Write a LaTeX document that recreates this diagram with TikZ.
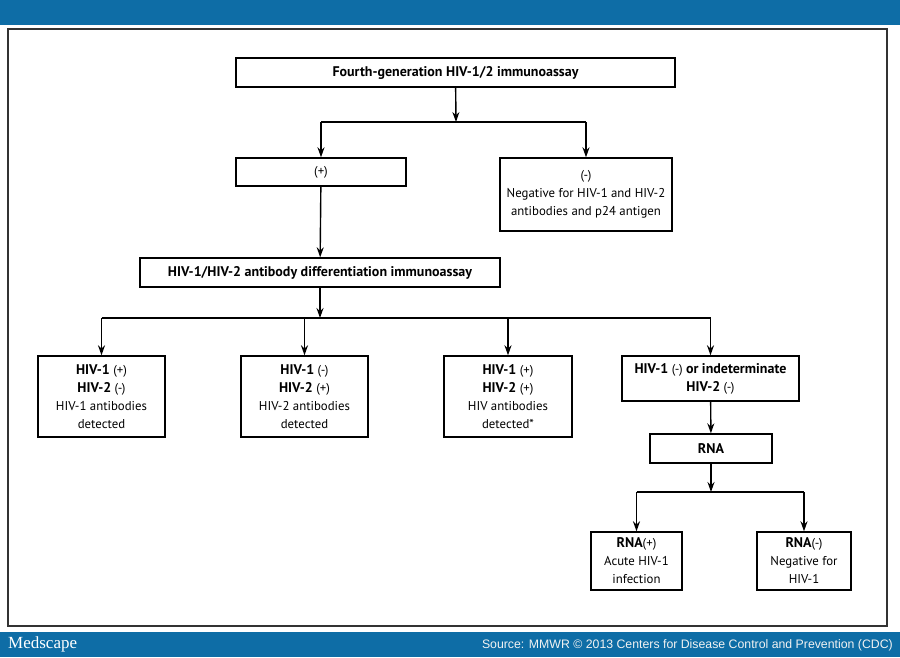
\documentclass[tikz,border=0pt]{standalone}
\usepackage{fontspec}
\setmainfont{PT Sans}
\newfontfamily\logofont{Liberation Serif}
\newfontfamily\srcfont{Liberation Sans}
\usetikzlibrary{arrows.meta}
\definecolor{mbar}{RGB}{14,109,166}
\newcommand\hb[1]{{\fontsize{14}{18}\selectfont\bfseries #1}}
\tikzset{
  box/.style={draw, line width=1.4pt, minimum height=29pt, align=center,
    inner sep=2pt, font=\fontsize{12.8}{18}\selectfont},
  arr/.style={line width=1.4pt, -{Stealth[length=10pt,width=7pt]}},
  ln/.style={line width=1.4pt},
  >=Stealth
}

\begin{document}
\begin{tikzpicture}[x=1pt, y=-1pt]
  \useasboundingbox (0,0) rectangle (900,657);
  \fill[white] (0,0) rectangle (900,657);
  % banners
  \fill[mbar] (0,0) rectangle (900,25);
  \fill[mbar] (0,632) rectangle (900,657);
  \draw[line width=1.2pt, black!80] (8,29) rectangle (887,626);
  \node[anchor=west, inner sep=0pt, text=white, font=\logofont\fontsize{17}{17}\selectfont] (logo) at (8,644.5) {Medscape};
  \node[anchor=east, inner sep=0pt, text=white!90!gray, font=\srcfont\fontsize{12.3}{12.3}\selectfont] (src) at (893,645)
    {Source: MMWR © 2013 Centers for Disease Control and Prevention (CDC)};

  % boxes
  \node[box, minimum width=439pt] (top) at (455.5,72.5) {\hb{Fourth-generation HIV-1/2 immunoassay}};
  \node[box, minimum width=170pt, minimum height=28pt] (pos) at (321,172) {(+)};
  \node[box, minimum width=172pt, minimum height=73pt] (neg) at (586,194.5)
    {(-)\\Negative for HIV-1 and HIV-2\\antibodies and p24 antigen};
  \node[box, minimum width=360pt] (diff) at (320,272.5) {\hb{HIV-1/HIV-2 antibody differentiation immunoassay}};
  \node[box, minimum width=127pt, minimum height=81pt] (one) at (101.5,396.5)
    {\hb{HIV-1} (+)\\\hb{HIV-2} (-)\\HIV-1 antibodies\\detected};
  \node[box, minimum width=127pt, minimum height=81pt] (two) at (304.5,396.5)
    {\hb{HIV-1} (-)\\\hb{HIV-2} (+)\\HIV-2 antibodies\\detected};
  \node[box, minimum width=128pt, minimum height=81pt] (both) at (508,396.5)
    {\hb{HIV-1} (+)\\\hb{HIV-2} (+)\\HIV antibodies\\detected*};
  \node[box, minimum width=177pt, minimum height=45pt] (indet) at (710.5,378.5)
    {\hb{HIV-1} (-) \hb{or indeterminate}\\\hb{HIV-2} (-)};
  \node[box, minimum width=122pt] (rna) at (711,448.5) {\hb{RNA}};
  \node[box, minimum width=91pt, minimum height=58pt] (rnapos) at (636.5,561)
    {\hb{RNA}(+)\\Acute HIV-1\\infection};
  \node[box, minimum width=94pt, minimum height=58pt] (rnaneg) at (804,561)
    {\hb{RNA}(-)\\Negative for\\HIV-1};

  % junctions
  \coordinate (j1) at (456,122);
  \coordinate (j2) at (320,318);
  \coordinate (j3) at (711,492);

  \draw[arr] (top) -- (j1);
  \draw[ln] (j1 -| pos) -- (j1 -| neg);
  \draw[arr] (j1 -| pos) -- (pos);
  \draw[arr] (j1 -| neg) -- (neg);
  \draw[arr] (pos) -- (diff);

  \draw[arr] (diff) -- (j2);
  \draw[ln] (j2 -| one) -- (j2 -| indet);
  \draw[arr] (j2 -| one) -- (one);
  \draw[arr] (j2 -| two) -- (two);
  \draw[arr] (j2 -| both) -- (both);
  \draw[arr] (j2 -| indet) -- (indet);
  \draw[arr] (indet) -- (rna);

  \draw[arr] (rna) -- (j3);
  \draw[ln] (j3 -| rnapos) -- (j3 -| rnaneg);
  \draw[arr] (j3 -| rnapos) -- (rnapos);
  \draw[arr] (j3 -| rnaneg) -- (rnaneg);
\end{tikzpicture}
\end{document}
